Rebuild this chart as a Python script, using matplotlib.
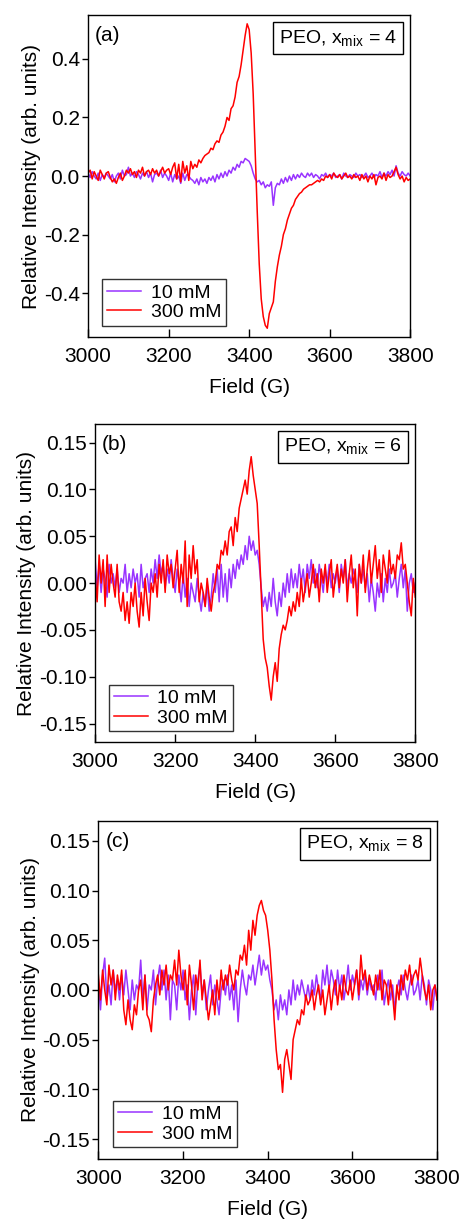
import numpy as np
import matplotlib
matplotlib.use("Agg")
import matplotlib.pyplot as plt
from matplotlib.ticker import FormatStrFormatter, MultipleLocator

plt.rcParams['font.family'] = ['Liberation Sans', 'DejaVu Sans']
plt.rcParams['axes.unicode_minus'] = False

# field axis, 5 G steps from 3000 to 3800 G
field = np.arange(3000, 3805, 5)

# ---- panel (a): PEO, x_mix = 4 ----
a_300 = [
    0.01, 0.02, -0.01, 0.015, 0.0, -0.015, 0.02, 0.005, -0.01, 0.01,
    0.015, -0.005, -0.02, -0.01, -0.025, -0.005, 0.01, -0.015, 0.0, 0.02,
    0.01, 0.025, 0.005, 0.015, -0.005, 0.02, 0.01, 0.03, 0.0, 0.015,
    0.02, 0.005, 0.025, 0.01, 0.02, 0.0, 0.015, 0.03, 0.01, 0.02,
    0.025, 0.005, 0.03, 0.045, -0.01, 0.04, -0.02, 0.05, 0.01, 0.035,
    -0.015, 0.05, 0.025, 0.04, 0.03, 0.055, 0.045, 0.06, 0.07, 0.075,
    0.08, 0.095, 0.09, 0.11, 0.12, 0.115, 0.14, 0.15, 0.17, 0.2,
    0.19, 0.23, 0.24, 0.27, 0.32, 0.34, 0.38, 0.43, 0.48, 0.52,
    0.5, 0.42, 0.28, 0.08, -0.12, -0.3, -0.42, -0.48, -0.51, -0.52,
    -0.47, -0.45, -0.43, -0.36, -0.31, -0.27, -0.24, -0.2, -0.18, -0.15,
    -0.13, -0.11, -0.1, -0.08, -0.07, -0.06, -0.055, -0.045, -0.04, -0.035,
    -0.03, -0.03, -0.025, -0.02, -0.015, -0.02, -0.01, -0.015, 0.0, -0.005,
    0.005, -0.01, 0.01, 0.0, -0.005, 0.005, -0.01, 0.0, 0.01, -0.005,
    0.0, -0.01, 0.005, -0.005, 0.0, -0.015, 0.005, -0.01, 0.0, -0.02,
    0.0, -0.01, 0.005, -0.03, -0.005, 0.0, -0.01, 0.01, -0.015, 0.005,
    -0.005, 0.0, 0.015, 0.03, 0.005, -0.01, 0.0, -0.02, -0.005, -0.015,
    -0.01,
]
a_10 = [
    0.01, -0.005, 0.015, 0.0, -0.01, 0.01, -0.015, 0.005, -0.005, 0.01,
    0.0, -0.01, 0.005, -0.02, 0.0, 0.01, -0.01, 0.02, 0.0, 0.005,
    0.03, 0.0, 0.01, -0.005, 0.015, 0.005, -0.01, 0.01, 0.0, 0.015,
    -0.005, 0.01, -0.02, 0.005, 0.01, 0.0, 0.02, -0.005, 0.01, 0.0,
    -0.015, 0.01, -0.02, 0.005, -0.01, 0.0, -0.025, 0.01, -0.015, 0.005,
    0.0, -0.01, -0.015, -0.025, -0.01, -0.03, -0.005, -0.02, -0.01, -0.025,
    -0.005, -0.015, 0.0, -0.02, 0.005, -0.01, 0.01, -0.005, 0.015, 0.0,
    0.02, 0.01, 0.03, 0.02, 0.04, 0.03, 0.05, 0.045, 0.06, 0.055,
    0.05, 0.035, 0.01, -0.01, -0.02, -0.015, -0.03, -0.02, -0.04, -0.03,
    -0.035, -0.02, -0.1, -0.04, -0.025, -0.03, -0.01, -0.025, -0.005, -0.02,
    0.0, -0.015, 0.005, -0.01, 0.005, -0.005, 0.01, 0.0, -0.005, 0.01,
    0.0, 0.01, -0.005, 0.005, 0.0, -0.01, 0.005, 0.0, 0.01, -0.005,
    0.005, 0.0, 0.01, -0.005, 0.0, 0.005, -0.01, 0.01, 0.0, -0.005,
    0.005, 0.0, -0.005, 0.01, 0.0, 0.005, -0.005, 0.0, 0.01, -0.005,
    0.0, 0.01, -0.005, 0.005, 0.0, 0.015, -0.005, 0.01, 0.0, 0.015,
    0.005, 0.02, 0.0, 0.035, 0.01, 0.0, 0.015, 0.005, 0.0, 0.01,
    0.0,
]

# ---- panel (b): PEO, x_mix = 6 ----
b_300 = [
    0.01, -0.02, 0.03, 0.0, 0.025, -0.025, 0.03, -0.01, 0.02, 0.0,
    -0.015, 0.02, -0.02, -0.03, -0.01, -0.04, -0.02, -0.043, -0.01, -0.025,
    0.0, -0.03, -0.047, -0.01, -0.035, 0.005, -0.02, -0.04, 0.0, -0.01,
    0.01, -0.015, 0.02, 0.0, 0.025, -0.01, 0.03, 0.01, 0.02, -0.005,
    0.015, 0.035, -0.01, 0.02, 0.0, 0.045, -0.025, 0.03, 0.005, 0.04,
    0.01, 0.025, -0.02, 0.0, -0.01, -0.025, 0.005, -0.015, -0.03, -0.01,
    0.0, 0.02, 0.015, 0.035, 0.03, 0.045, 0.03, 0.055, 0.06, 0.04,
    0.07, 0.055, 0.08, 0.09, 0.1, 0.11, 0.095, 0.12, 0.135, 0.115,
    0.1, 0.085, 0.04, -0.01, -0.06, -0.08, -0.09, -0.11, -0.125, -0.1,
    -0.085, -0.105, -0.07, -0.055, -0.045, -0.05, -0.04, -0.025, -0.035, -0.02,
    -0.03, -0.01, -0.025, 0.005, -0.02, -0.005, 0.01, -0.015, 0.0, 0.02,
    -0.005, 0.01, -0.02, 0.015, 0.0, 0.02, -0.01, 0.01, 0.025, -0.015,
    0.005, 0.02, -0.005, 0.015, 0.0, 0.025, -0.02, 0.01, 0.03, -0.005,
    0.015, -0.035, 0.02, 0.0, 0.03, -0.01, 0.015, 0.035, 0.0, 0.02,
    0.04, 0.005, 0.025, -0.01, 0.03, 0.015, 0.0, 0.035, 0.01, 0.02,
    0.005, 0.03, 0.025, 0.043, 0.015, 0.02, 0.0, -0.02, -0.035, 0.005,
    -0.015,
]
b_10 = [
    0.025, -0.005, 0.02, -0.01, 0.015, 0.005, -0.015, 0.02, 0.0, 0.01,
    -0.005, 0.015, -0.01, 0.005, 0.0, 0.02, -0.01, 0.01, -0.005, 0.015,
    0.0, 0.01, -0.015, 0.02, -0.005, 0.005, 0.01, -0.01, 0.015, 0.0,
    0.025, 0.005, 0.03, 0.01, 0.02, -0.005, 0.015, 0.0, 0.025, 0.005,
    -0.01, 0.015, 0.0, -0.02, 0.01, -0.015, 0.005, -0.025, 0.0, -0.01,
    -0.02, 0.005, -0.015, -0.03, -0.01, -0.025, 0.0, -0.03, -0.015, 0.01,
    -0.01, 0.015, -0.02, 0.02, -0.015, 0.01, -0.02, 0.015, -0.005, 0.02,
    0.005, 0.025, 0.015, 0.03, 0.02, 0.04, 0.025, 0.05, 0.035, 0.045,
    0.03, 0.035, 0.02, -0.005, -0.025, -0.015, -0.03, -0.01, -0.025, 0.005,
    -0.02, -0.035, -0.01, -0.025, 0.0, -0.015, 0.01, -0.01, 0.015, -0.005,
    0.01, -0.005, 0.02, 0.0, 0.015, -0.01, 0.02, 0.005, 0.025, 0.0,
    0.015, -0.005, 0.02, 0.005, -0.01, 0.015, 0.0, 0.02, -0.005, 0.01,
    0.0, 0.015, -0.01, 0.02, 0.005, 0.025, -0.005, 0.01, 0.0, 0.015,
    0.005, -0.01, 0.02, 0.0, 0.015, -0.005, 0.01, -0.02, 0.005, -0.01,
    -0.03, 0.0, -0.015, 0.01, -0.02, 0.005, -0.01, 0.015, -0.005, 0.0,
    0.01, -0.015, 0.005, 0.02, -0.005, 0.015, -0.03, 0.0, 0.01, -0.01,
    0.0,
]

# ---- panel (c): PEO, x_mix = 8 ----
c_300 = [
    0.015, -0.01, 0.02, 0.0, -0.015, 0.025, 0.005, 0.02, -0.01, 0.015,
    0.0, 0.02, -0.02, -0.035, -0.01, -0.03, -0.04, -0.015, -0.025, 0.0,
    0.01, -0.02, 0.015, -0.025, -0.03, -0.042, -0.01, 0.005, 0.015, -0.005,
    0.02, 0.005, 0.025, 0.0, 0.015, 0.01, 0.03, 0.005, 0.04, 0.015,
    0.0, 0.02, -0.015, 0.025, 0.005, -0.02, 0.015, 0.0, 0.03, -0.01,
    0.01, -0.01, -0.03, -0.015, 0.0, -0.025, 0.01, -0.01, 0.02, 0.0,
    0.015, 0.005, 0.025, 0.01, 0.0, 0.02, 0.015, 0.035, 0.03, 0.045,
    0.025, 0.06, 0.04, 0.07, 0.055, 0.075, 0.085, 0.09, 0.08, 0.075,
    0.06, 0.04, 0.01, -0.03, -0.06, -0.08, -0.075, -0.103, -0.07, -0.06,
    -0.075, -0.09, -0.05, -0.04, -0.03, -0.035, -0.02, -0.025, -0.005, -0.015,
    -0.01, 0.0, -0.02, -0.005, 0.005, -0.015, 0.0, -0.025, -0.01, 0.005,
    -0.02, 0.0, 0.01, -0.015, 0.005, -0.01, 0.015, 0.0, -0.005, 0.01,
    -0.01, 0.005, 0.02, -0.005, 0.035, 0.01, 0.02, 0.0, 0.015, 0.005,
    -0.005, 0.015, 0.0, 0.02, -0.01, 0.01, 0.005, -0.015, 0.01, -0.005,
    -0.03, 0.005, -0.01, 0.015, 0.0, 0.02, 0.01, 0.025, 0.005, 0.015,
    0.02, 0.01, 0.032, 0.015, 0.0, -0.01, 0.005, -0.02, 0.0, 0.005,
    -0.01,
]
c_10 = [
    0.01, -0.02, 0.015, 0.032, -0.01, 0.005, -0.015, 0.02, 0.0, 0.01,
    -0.01, 0.015, -0.005, 0.02, 0.0, -0.02, 0.01, -0.01, 0.005, 0.0,
    0.03, -0.01, 0.015, -0.02, 0.005, 0.0, 0.02, -0.015, 0.01, 0.025,
    0.0, 0.02, -0.01, 0.015, -0.03, 0.01, 0.005, -0.02, 0.015, 0.0,
    0.02, -0.01, 0.005, -0.03, 0.0, 0.015, -0.025, 0.01, 0.025, -0.005,
    0.01, -0.02, 0.0, 0.015, -0.015, 0.005, -0.01, -0.025, 0.0, 0.01,
    -0.005, 0.015, -0.01, 0.005, -0.02, 0.01, -0.032, 0.0, 0.02, 0.005,
    -0.005, 0.015, 0.01, 0.025, 0.005, 0.02, 0.035, 0.015, 0.03, 0.02,
    0.025, 0.01, 0.0, -0.02, -0.01, -0.03, -0.005, -0.02, -0.01, -0.025,
    0.0, -0.015, 0.01, -0.01, 0.005, -0.005, 0.01, 0.0, -0.01, 0.005,
    -0.01, 0.01, -0.005, 0.015, 0.0, -0.01, 0.02, 0.005, 0.025, 0.0,
    0.02, 0.01, -0.005, 0.02, 0.0, 0.015, -0.01, 0.005, 0.025, 0.0,
    0.015, 0.005, 0.02, -0.01, 0.01, 0.0, 0.015, -0.005, 0.01, 0.0,
    0.005, -0.01, 0.015, 0.0, 0.02, -0.015, 0.0, 0.01, -0.01, 0.005,
    -0.02, 0.0, 0.01, -0.005, 0.015, 0.0, -0.01, 0.005, 0.015, -0.005,
    0.0, 0.01, -0.01, 0.015, 0.005, -0.015, 0.01, 0.0, -0.02, 0.005,
    -0.01,
]

panel_tags = ['(a)', '(b)', '(c)']
x_mix = [4, 6, 8]
labels = ['10 mM', '300 mM']
c10 = '#9933ff'
c300 = '#ff0000'

fig = plt.figure(figsize=(4.64, 12.22), dpi=100)

rects = [
    [0.190, 0.7242, 0.694, 0.2635],
    [0.205, 0.3926, 0.690, 0.2605],
    [0.212, 0.0516, 0.730, 0.2766],
]
ylims = [0.55, 0.17, 0.17]
ysteps = [0.2, 0.05, 0.05]
yfmts = ['%.1f', '%.2f', '%.2f']
series = [(a_10, a_300), (b_10, b_300), (c_10, c_300)]


def draw_panel(ax, y10, y300, tag, xm, ylim, ystep, yfmt):
    ax.plot(field, y10, color=c10, lw=1.1, label=labels[0])
    ax.plot(field, y300, color=c300, lw=1.1, label=labels[1])
    ax.set_xlim(3000, 3800)
    ax.set_ylim(-ylim, ylim)
    ax.xaxis.set_major_locator(MultipleLocator(200))
    ax.yaxis.set_major_locator(MultipleLocator(ystep))
    ax.yaxis.set_major_formatter(FormatStrFormatter(yfmt))
    ax.tick_params(axis='x', direction='in', length=6, width=1, labelsize=15, pad=7)
    ax.tick_params(axis='y', direction='out', length=4, width=1, labelsize=15, pad=2)
    for s in ax.spines.values():
        s.set_linewidth(1.0)
    ax.set_xlabel('Field (G)', fontsize=15, labelpad=9)
    ax.set_ylabel('Relative Intensity (arb. units)', fontsize=15, labelpad=2)
    ax.annotate(tag, xy=(0, 1), xycoords='axes fraction', xytext=(5, -8),
                textcoords='offset points', fontsize=15, ha='left', va='top')
    ax.annotate(r'PEO, x$_\mathregular{mix}$ = %d' % xm, xy=(1, 1),
                xycoords='axes fraction', xytext=(-9.5, -9.5),
                textcoords='offset points', fontsize=14, ha='right', va='top',
                bbox=dict(boxstyle='square,pad=0.3', fc='white', ec='black', lw=1))
    leg = ax.legend(loc='lower left', fontsize=14, frameon=True, fancybox=False,
                    edgecolor='black', handlelength=1.75, borderpad=0.25,
                    labelspacing=0.1, handletextpad=0.5, borderaxespad=0,
                    bbox_to_anchor=(0.043, 0.034))
    leg.get_frame().set_linewidth(1.0)


for i in range(3):
    ax = fig.add_axes(rects[i])
    draw_panel(ax, series[i][0], series[i][1], panel_tags[i], x_mix[i],
               ylims[i], ysteps[i], yfmts[i])

fig.savefig('out.png', dpi=100)
